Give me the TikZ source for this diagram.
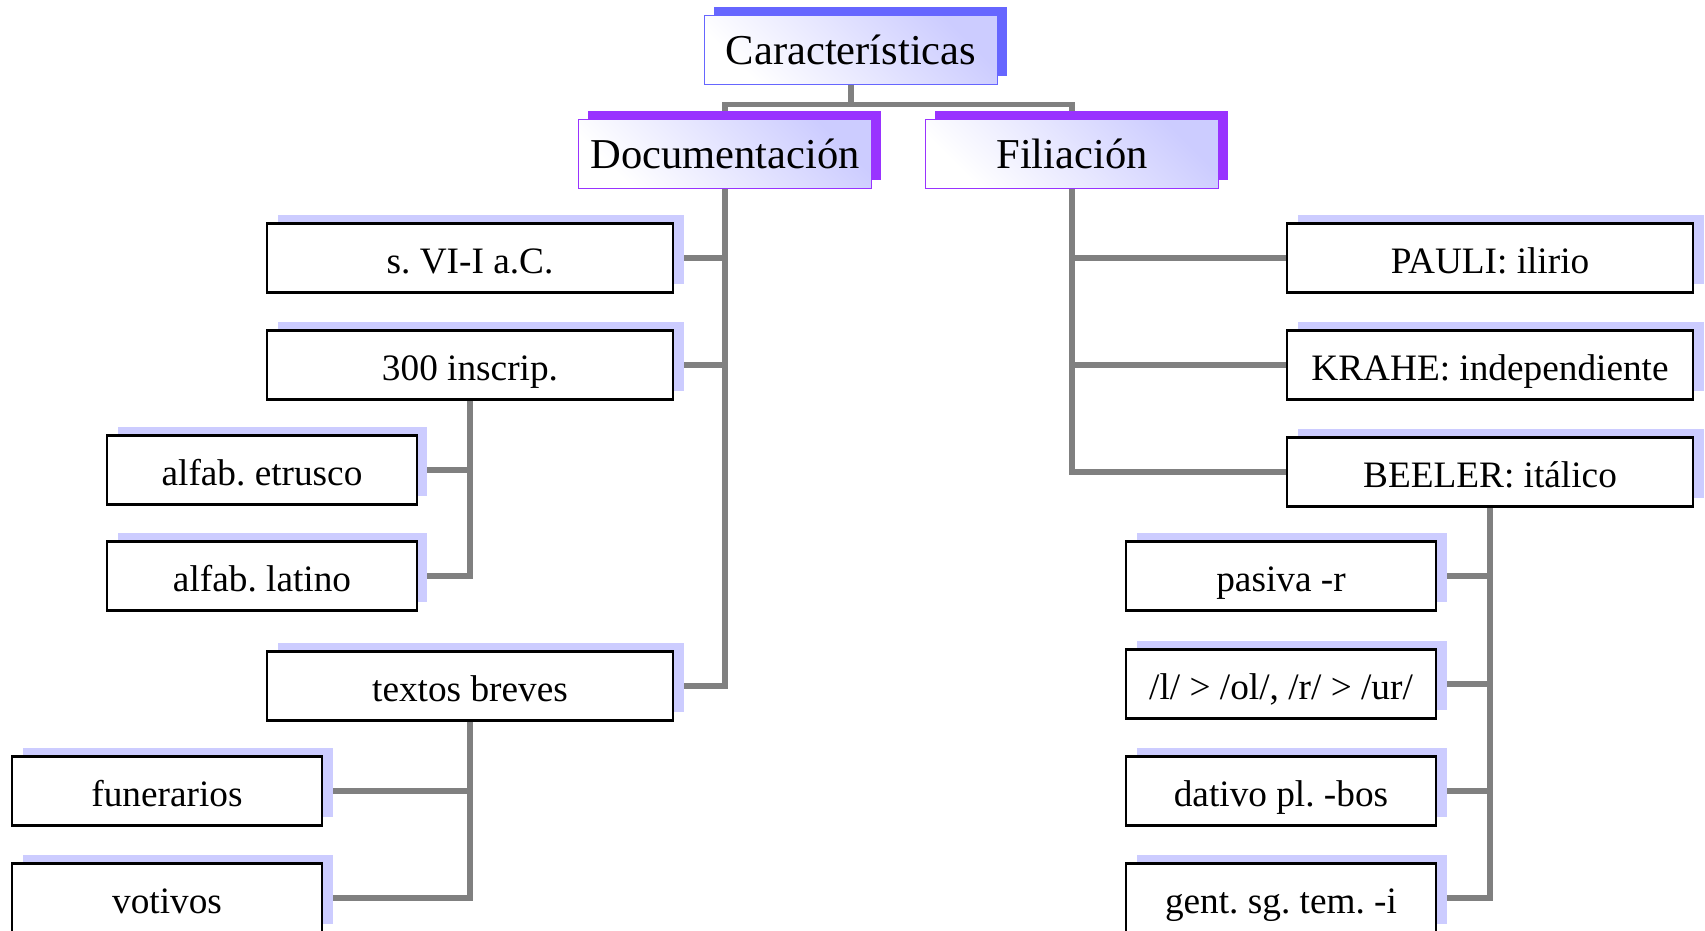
\documentclass[tikz,border=0pt]{standalone}
\usepackage{fontspec}
\setmainfont{Liberation Serif}
\usetikzlibrary{shadows}

\definecolor{lav}{HTML}{CCCCFF}
\definecolor{bluish}{HTML}{6666FF}
\definecolor{purp}{HTML}{9933FF}
\pgfdeclarelayer{back}
\pgfsetlayers{back,main}
\frenchspacing

\begin{document}
\begin{tikzpicture}[x=0.01cm,y=-0.01cm,
  head/.style={draw=#1, line width=0.5pt, top color=lav, bottom color=white, shading angle=-45,
    minimum width=2.93cm, minimum height=0.69cm, inner sep=0pt, font=\fontsize{12.1}{14}\selectfont,
    drop shadow={shadow xshift=2.8pt, shadow yshift=2.3pt, fill=#1, opacity=1}},
  leaf/.style={draw=black, line width=0.6pt, fill=white, minimum width=#1, minimum height=0.69cm,
    inner sep=0pt, text height=8.6pt, text depth=0pt, font=\fontsize{10.6}{13}\selectfont,
    drop shadow={shadow xshift=3.1pt, shadow yshift=2.3pt, fill=lav, opacity=1}},
  link/.style={draw=gray, line width=1.5pt}]

\useasboundingbox (0,0) rectangle (1705,931);

\node[head=bluish] (car) at (851,50) {Características};
\node[head=purp] (doc) at (725,154) {Documentación};
\node[head=purp] (fil) at (1072,154) {Filiación};

% Documentacion
\node[leaf=4.06cm] (siglo) at (470,258) {s. VI-I a.C.};
\node[leaf=4.06cm] (inscr) at (470,365) {300 inscrip.};
\node[leaf=3.09cm] (etrus) at (262,470) {alfab. etrusco};
\node[leaf=3.09cm] (latin) at (262,576) {alfab. latino};
\node[leaf=4.06cm] (textos) at (470,686) {textos breves};
\node[leaf=3.1cm] (funer) at (167,791) {funerarios};
\node[leaf=3.1cm] (votiv) at (167,898) {votivos};

% Filiacion
\node[leaf=4.05cm] (pauli) at (1490,258) {PAULI: ilirio};
\node[leaf=4.05cm] (krahe) at (1490,365) {KRAHE: independiente};
\node[leaf=4.05cm] (beeler) at (1490,472) {BEELER: itálico};
\node[leaf=3.1cm] (pasiva) at (1281,576) {pasiva -r};
\node[leaf=3.1cm] (liq) at (1281,684) {/l/ > /ol/, /r/ > /ur/};
\node[leaf=3.1cm] (dat) at (1281,791) {dativo pl. -bos};
\node[leaf=3.1cm] (gen) at (1281,898) {gent. sg. tem. -i};

\begin{pgfonlayer}{back}
\draw[link] (car.south) -- ++(0,19) -| (doc.north);
\draw[link] (car.south) -- ++(0,19) -| (fil.north);

\draw[link] (doc.south) |- (siglo.east);
\draw[link] (doc.south) |- (inscr.east);
\draw[link] (doc.south) |- (textos.east);
\draw[link] (inscr.south) |- (etrus.east);
\draw[link] (inscr.south) |- (latin.east);
\draw[link] (textos.south) |- (funer.east);
\draw[link] (textos.south) |- (votiv.east);

\draw[link] (fil.south) |- (pauli.west);
\draw[link] (fil.south) |- (krahe.west);
\draw[link] (fil.south) |- (beeler.west);
\draw[link] (beeler.south) |- (pasiva.east);
\draw[link] (beeler.south) |- (liq.east);
\draw[link] (beeler.south) |- (dat.east);
\draw[link] (beeler.south) |- (gen.east);
\end{pgfonlayer}

\end{tikzpicture}
\end{document}
